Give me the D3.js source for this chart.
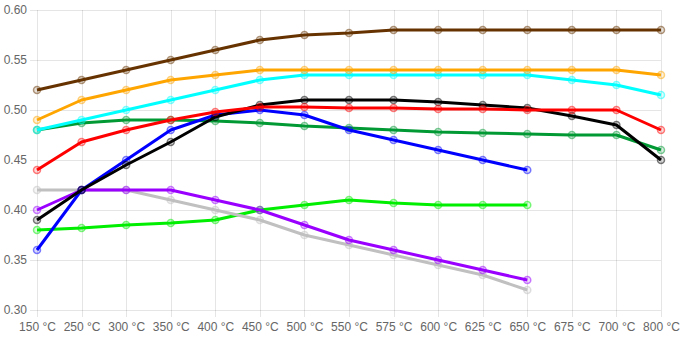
<!DOCTYPE html>
<html lang="en">
<head>
<meta charset="UTF-8">
<title>Line chart</title>
<style>
  body { margin: 0; background: #fff; }
  .grid line { stroke: rgba(0,0,0,0.1); stroke-width: 1; shape-rendering: crispEdges; }
  .tick text { font-family: "Liberation Sans", Arial, sans-serif; font-size: 12px; fill: #666; }
</style>
</head>
<body>
<div id="chart"></div>
<script src="https://d3js.org/d3.v7.min.js"></script>
<script>
const temps = ["150 °C", "250 °C", "300 °C", "350 °C", "400 °C", "450 °C", "500 °C", "550 °C",
               "575 °C", "600 °C", "625 °C", "650 °C", "675 °C", "700 °C", "800 °C"];
const yTicks = [0.30, 0.35, 0.40, 0.45, 0.50, 0.55, 0.60];

const brown  = [0.52, 0.53, 0.54, 0.55, 0.56, 0.57, 0.575, 0.577, 0.58, 0.58, 0.58, 0.58, 0.58, 0.58, 0.58];
const orange = [0.49, 0.51, 0.52, 0.53, 0.535, 0.54, 0.54, 0.54, 0.54, 0.54, 0.54, 0.54, 0.54, 0.54, 0.535];
const cyan   = [0.48, 0.49, 0.50, 0.51, 0.52, 0.53, 0.535, 0.535, 0.535, 0.535, 0.535, 0.535, 0.53, 0.525, 0.515];
const red    = [0.44, 0.468, 0.48, 0.49, 0.498, 0.503, 0.503, 0.502, 0.502, 0.501, 0.501, 0.50, 0.50, 0.50, 0.48];
const black  = [0.39, 0.42, 0.445, 0.468, 0.493, 0.505, 0.51, 0.51, 0.51, 0.508, 0.505, 0.502, 0.494, 0.485, 0.45];
const blue   = [0.36, 0.42, 0.45, 0.48, 0.495, 0.50, 0.495, 0.48, 0.47, 0.46, 0.45, 0.44];
const green  = [0.48, 0.487, 0.49, 0.49, 0.489, 0.487, 0.484, 0.482, 0.48, 0.478, 0.477, 0.476, 0.475, 0.475, 0.46];
const gray   = [0.42, 0.42, 0.42, 0.41, 0.40, 0.39, 0.375, 0.365, 0.355, 0.345, 0.335, 0.32];
const purple = [0.40, 0.42, 0.42, 0.42, 0.41, 0.40, 0.385, 0.37, 0.36, 0.35, 0.34, 0.33];
const lime   = [0.38, 0.382, 0.385, 0.387, 0.39, 0.40, 0.405, 0.41, 0.407, 0.405, 0.405, 0.405];

// later entries are drawn on top
const series = [
  { values: lime,   color: "#00ee00" },
  { values: gray,   color: "#c0c0c0" },
  { values: purple, color: "#9900ff" },
  { values: green,  color: "#009933" },
  { values: blue,   color: "#0000ff" },
  { values: black,  color: "#000000" },
  { values: red,    color: "#ff0000" },
  { values: cyan,   color: "#00ffff" },
  { values: orange, color: "#ffa500" },
  { values: brown,  color: "#663300" }
];

const width = 682, height = 340;
const margin = { top: 10, right: 21, bottom: 30, left: 37 };

const svg = d3.select("#chart").append("svg")
  .attr("width", width)
  .attr("height", height);

const x = d3.scalePoint()
  .domain(temps)
  .range([margin.left, width - margin.right]);

const y = d3.scaleLinear()
  .domain([0.30, 0.60])
  .range([height - margin.bottom, margin.top]);

// horizontal grid + y labels
svg.append("g")
  .attr("class", "grid")
  .attr("transform", `translate(${margin.left},0)`)
  .call(d3.axisLeft(y).tickValues(yTicks).tickFormat(d3.format(".2f"))
    .tickSize(-(width - margin.left - margin.right)).tickPadding(10))
  .call(g => g.select(".domain").remove())
  .call(g => g.selectAll(".tick line").attr("x1", -7));

// vertical grid + x labels
svg.append("g")
  .attr("class", "grid")
  .attr("transform", `translate(0,${height - margin.bottom})`)
  .call(d3.axisBottom(x).tickSize(-(height - margin.top - margin.bottom)).tickPadding(12))
  .call(g => g.select(".domain").remove())
  .call(g => g.selectAll(".tick line").attr("y1", 7));

const line = d3.line()
  .x((d, i) => x(temps[i]))
  .y(d => y(d));

series.forEach(s => {
  const g = svg.append("g");
  g.append("path")
    .datum(s.values)
    .attr("fill", "none")
    .attr("stroke", s.color)
    .attr("stroke-width", 3)
    .attr("stroke-linejoin", "round")
    .attr("d", line);

  const c = d3.color(s.color);
  g.selectAll("circle")
    .data(s.values)
    .enter()
    .append("circle")
    .attr("cx", (d, i) => x(temps[i]))
    .attr("cy", d => y(d))
    .attr("r", 3.5)
    .attr("fill", c.copy({ opacity: 0.15 }))
    .attr("stroke", c.copy({ opacity: 0.5 }))
    .attr("stroke-width", 1.5);
});
</script>
</body>
</html>
